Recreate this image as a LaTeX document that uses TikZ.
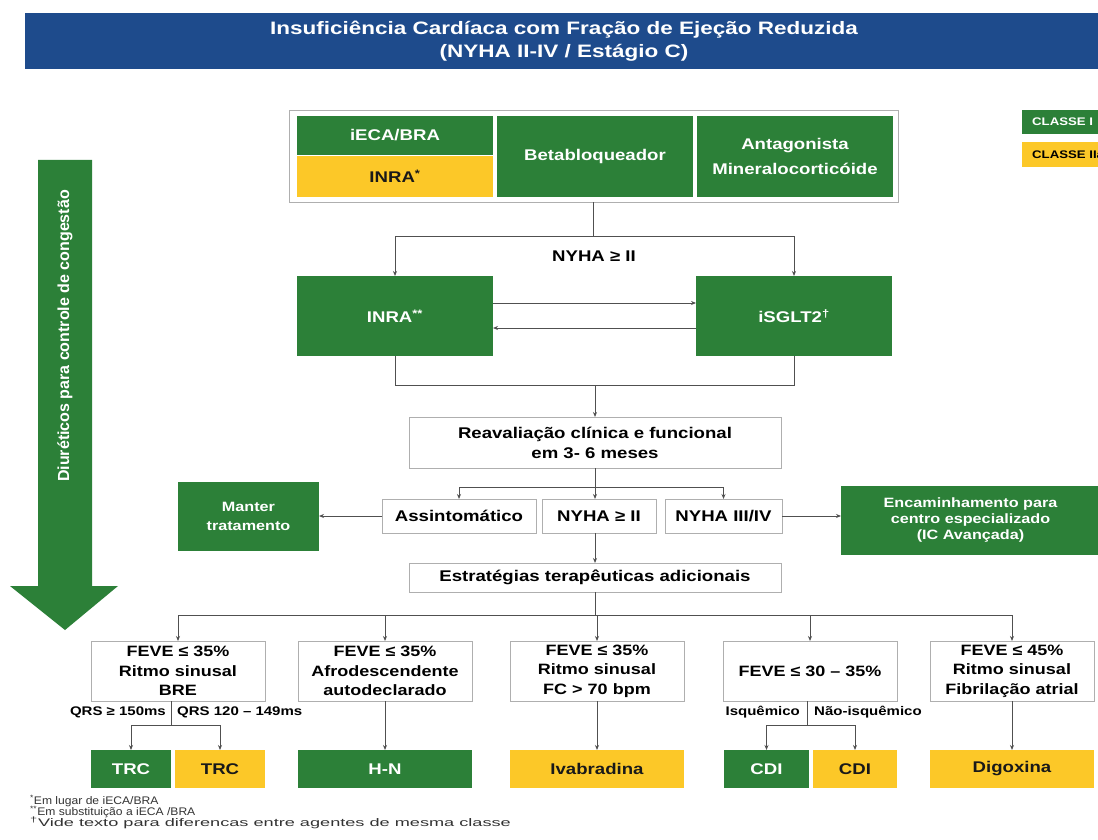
\documentclass[tikz,border=0pt]{standalone}
\usepackage{fontspec}
\usepackage{graphicx}
\setmainfont{Liberation Sans}
\newfontfamily\sx{Liberation Sans}[FakeStretch=1.2]
\newfontfamily\tx{Liberation Sans}[FakeStretch=1.25]
\newfontfamily\fx{Liberation Sans}[FakeStretch=1.1]
\usetikzlibrary{arrows.meta}
\definecolor{gr}{RGB}{44,128,56}
\definecolor{ye}{RGB}{252,200,40}
\definecolor{bl}{RGB}{30,75,140}
\definecolor{bd}{RGB}{175,175,175}
\definecolor{lc}{RGB}{80,80,80}
\begin{document}
\begin{tikzpicture}[x=1pt,y=-1pt,
  box/.style={rectangle, inner sep=0pt, outer sep=0pt, align=center,
    font=\sx\bfseries\fontsize{15.5}{20}\selectfont},
  gbox/.style={box, fill=gr, text=white},
  ybox/.style={box, fill=ye, text=black!90},
  wbox/.style={box, draw=bd, line width=0.9pt, fill=white, text=black},
  lbl/.style={inner sep=0pt, font=\sx\bfseries\fontsize{12.5}{15}\selectfont, text=black},
  ln/.style={draw=lc, line width=0.9pt},
  arr/.style={ln, -{Stealth[length=5pt,width=4pt]}},
  foot/.style={inner sep=0pt, anchor=west, text=black!80, font=\fx\fontsize{11}{12}\selectfont}]
\useasboundingbox (0,0) rectangle (1098,840);
\clip (0,0) rectangle (1098,840);
\fill[white] (0,0) rectangle (1098,840);

% title
\node[fill=bl, minimum width=1078, minimum height=56, inner sep=0pt, text=white, align=center,
  font=\tx\bfseries\fontsize{18}{23}\selectfont] (title) at (564,41)
  {Insuficiência Cardíaca com Fração de Ejeção Reduzida\\(NYHA II-IV / Estágio C)};

% legend
\node[fill=gr, minimum width=78, minimum height=24, inner sep=0pt, anchor=west] (leg1) at (1022,122) {};
\node[anchor=west, inner sep=0pt, text=white, font=\sx\bfseries\fontsize{11}{13}\selectfont] (leg1t) at ([xshift=10pt]leg1.west) {CLASSE I};
\node[fill=ye, minimum width=78, minimum height=25, inner sep=0pt, anchor=west] (leg2) at (1022,154.5) {};
\node[anchor=west, inner sep=0pt, text=black, font=\sx\bfseries\fontsize{11}{13}\selectfont] (leg2t) at ([xshift=10pt]leg2.west) {CLASSE IIa};

% diuretics arrow
\fill[gr] (38,160) -- (92,160) -- (92,586) -- (118,586) -- (65,630) -- (10,586) -- (38,586) -- cycle;
\node[rotate=90, inner sep=0pt, text=white, font=\bfseries\fontsize{16}{18}\selectfont] (diur) at (65,336) {Diuréticos para controle de congestão};

% top box
\node[wbox, minimum width=609, minimum height=92] (topbox) at (593.5,156) {};
\node[gbox, minimum width=196, minimum height=39] (ieca) at (395,135.5) {iECA/BRA};
\node[ybox, minimum width=196, minimum height=41] (inra1) at (395,176.5) {INRA\textsuperscript{*}};
\node[gbox, minimum width=196, minimum height=81] (beta) at (595,156.5) {Betabloqueador};
\node[gbox, minimum width=196, minimum height=81, font=\sx\bfseries\fontsize{15.5}{25}\selectfont] (antag) at (795,156.5) {Antagonista\\Mineralocorticóide};

% INRA / iSGLT2
\node[gbox, minimum width=196, minimum height=80] (inra2) at (395,316) {INRA\textsuperscript{**}};
\node[gbox, minimum width=196, minimum height=80] (sglt) at (794,316) {iSGLT2\textsuperscript{\dag}};
\node[lbl, font=\sx\bfseries\fontsize{15.5}{18}\selectfont] (nyhalbl) at (594,256) {NYHA ≥ II};

\coordinate (s1) at (0,236);
\draw[ln] (topbox.south) -- (topbox.south |- s1);
\draw[arr] (topbox.south |- s1) -| (inra2.north);
\draw[arr] (topbox.south |- s1) -| (sglt.north);
\draw[arr] ([yshift=13pt]inra2.east) -- ([yshift=13pt]sglt.west);
\draw[arr] ([yshift=-12pt]sglt.west) -- ([yshift=-12pt]inra2.east);

% reavaliacao
\node[wbox, minimum width=372, minimum height=51] (reav) at (595,442.5) {Reavaliação clínica e funcional\\em 3- 6 meses};
\coordinate (s2) at (0,385);
\draw[ln] (inra2.south) |- (sglt.south |- s2) -- (sglt.south);
\draw[arr] (reav.north |- s2) -- (reav.north);

% row of three
\node[wbox, minimum width=154, minimum height=34] (assint) at (459,516) {Assintomático};
\node[wbox, minimum width=114, minimum height=34] (nyha2) at (599,516) {NYHA ≥ II};
\node[wbox, minimum width=117, minimum height=34] (nyha34) at (723.5,516) {NYHA III/IV};
\node[gbox, minimum width=141, minimum height=69, font=\sx\bfseries\fontsize{13.5}{19}\selectfont] (manter) at (248.5,516.5) {Manter\\tratamento};
\node[gbox, minimum width=259, minimum height=69, font=\sx\bfseries\fontsize{13.5}{16}\selectfont] (enc) at (970.5,520.5) {Encaminhamento para\\centro especializado\\(IC Avançada)};

\coordinate (s3) at (0,487);
\draw[ln] (reav.south) -- (reav.south |- s3);
\draw[arr] (reav.south |- s3) -| (assint.north);
\draw[arr] (reav.south |- s3) -| (nyha34.north);
\draw[arr] (reav.south |- s3) -- (reav.south |- nyha2.north);
\draw[arr] (assint.west) -- (assint.west -| manter.east);
\draw[arr] (nyha34.east) -- (nyha34.east -| enc.west);

% estrategias
\node[wbox, minimum width=372, minimum height=29] (estr) at (595,577.5) {Estratégias terapêuticas adicionais};
\draw[arr] (reav.south |- nyha2.south) -- (reav.south |- estr.north);

% FEVE boxes
\node[wbox, minimum width=174, minimum height=60, font=\sx\bfseries\fontsize{15}{19.5}\selectfont] (f1) at (178,671) {FEVE ≤ 35\%\\Ritmo sinusal\\BRE};
\node[wbox, minimum width=174, minimum height=60, font=\sx\bfseries\fontsize{15}{19.5}\selectfont] (f2) at (385,671) {FEVE ≤ 35\%\\Afrodescendente\\autodeclarado};
\node[wbox, minimum width=174, minimum height=60, font=\sx\bfseries\fontsize{15}{19.5}\selectfont] (f3) at (597,671) {FEVE ≤ 35\%\\Ritmo sinusal\\FC > 70 bpm};
\node[wbox, minimum width=174, minimum height=60, font=\sx\bfseries\fontsize{15}{19.5}\selectfont] (f4) at (810,671) {FEVE ≤ 30 – 35\%};
\node[wbox, minimum width=164, minimum height=60, font=\sx\bfseries\fontsize{15}{19.5}\selectfont] (f5) at (1012,671) {FEVE ≤ 45\%\\Ritmo sinusal\\Fibrilação atrial};

\coordinate (s4) at (0,615);
\draw[ln] (estr.south) -- (estr.south |- s4);
\foreach \f in {f1,f2,f3,f4,f5} \draw[arr] (estr.south |- s4) -| (\f.north);

% bottom boxes
\node[gbox, minimum width=80, minimum height=38] (trc1) at (131,769) {TRC};
\node[ybox, minimum width=90, minimum height=38] (trc2) at (220,769) {TRC};
\node[gbox, minimum width=174, minimum height=38] (hn) at (385,769) {H-N};
\node[ybox, minimum width=174, minimum height=38] (ivab) at (597,769) {Ivabradina};
\node[gbox, minimum width=85, minimum height=38] (cdi1) at (766.5,769) {CDI};
\node[ybox, minimum width=84, minimum height=38] (cdi2) at (855,769) {CDI};
\node[ybox, minimum width=164, minimum height=38] (digo) at (1012,769) {Digoxina};

% TRC split
\coordinate (s5) at (171,725);
\draw[ln] (s5 |- f1.south) -- (s5);
\draw[arr] (s5) -| (trc1.north);
\draw[arr] (s5) -| (trc2.north);
\node[lbl, anchor=east] (q1) at (166,712) {QRS ≥ 150ms};
\node[lbl, anchor=west] (q2) at (177,712) {QRS 120 – 149ms};

% CDI split
\coordinate (s6) at (807,725);
\draw[ln] (s6 |- f4.south) -- (s6);
\draw[arr] (s6) -| (cdi1.north);
\draw[arr] (s6) -| (cdi2.north);
\node[lbl, anchor=east] (isq) at (800,712) {Isquêmico};
\node[lbl, anchor=west] (nisq) at (814,712) {Não-isquêmico};

\draw[arr] (f2.south) -- (hn.north);
\draw[arr] (f3.south) -- (ivab.north);
\draw[arr] (f5.south) -- (digo.north);

% footnotes
\node[foot] (fn1) at (30,801) {\textsuperscript{*}Em lugar de iECA/BRA};
\node[foot] (fn2) at (30,812) {\textsuperscript{**}Em substituição a iECA /BRA};
\node[foot] (fn3) at (30,823) {\scalebox{1.5}[1]{\textsuperscript{\dag}Vide texto para diferencas entre agentes de mesma classe}};
\end{tikzpicture}
\end{document}
